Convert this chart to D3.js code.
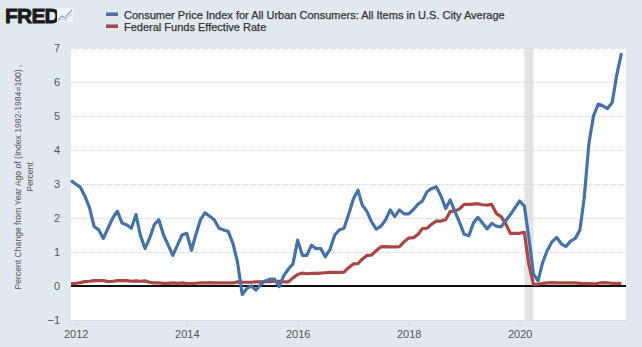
<!DOCTYPE html>
<html>
<head>
<meta charset="utf-8">
<script src="https://cdn.jsdelivr.net/npm/d3@7"></script>
<style>
  body { margin: 0; background: #e1e9f0; }
  svg text { font-family: "Liberation Sans", Arial, sans-serif; }
</style>
</head>
<body>
<svg id="chart"></svg>
<script>
// monthly observations, Dec 2011 .. Nov 2021
var firstMonth = "2011-12-01";

var cpiValues = [
  3.1,
  3.0, 2.9, 2.65, 2.3, 1.75, 1.65, 1.4, 1.7, 2.0, 2.2, 1.85, 1.8,
  1.7, 2.1, 1.5, 1.1, 1.4, 1.8, 1.95, 1.5, 1.2, 0.9, 1.2, 1.5,
  1.55, 1.05, 1.5, 1.95, 2.15, 2.05, 1.95, 1.7, 1.65, 1.6, 1.25, 0.7,
  -0.25, -0.07, 0.0, -0.12, 0.03, 0.15, 0.2, 0.2, -0.02, 0.3, 0.5, 0.65,
  1.35, 0.9, 0.9, 1.2, 1.1, 1.1, 0.86, 1.08, 1.5, 1.65, 1.7, 2.1,
  2.55, 2.82, 2.38, 2.19, 1.89, 1.67, 1.76, 1.94, 2.24, 2.04, 2.24, 2.12,
  2.12, 2.25, 2.4, 2.5, 2.77, 2.87, 2.92, 2.65, 2.28, 2.53, 2.19, 1.88,
  1.52, 1.48, 1.84, 2.02, 1.85, 1.68, 1.84, 1.76, 1.74, 1.92, 2.1, 2.3,
  2.5, 2.35, 1.45, 0.35, 0.15, 0.7, 1.05, 1.3, 1.43, 1.24, 1.16, 1.32,
  1.4, 1.65, 2.6, 4.2, 5.0, 5.35, 5.3, 5.22, 5.4, 6.2, 6.85
];

var fedFundsValues = [
  0.07,
  0.08, 0.10, 0.13, 0.14, 0.16, 0.16, 0.16, 0.13, 0.14, 0.16, 0.16, 0.16,
  0.14, 0.15, 0.14, 0.15, 0.11, 0.09, 0.09, 0.08, 0.08, 0.09, 0.08, 0.09,
  0.07, 0.07, 0.08, 0.09, 0.09, 0.10, 0.09, 0.09, 0.09, 0.09, 0.09, 0.12,
  0.11, 0.11, 0.11, 0.12, 0.12, 0.13, 0.13, 0.14, 0.14, 0.12, 0.12, 0.24,
  0.34, 0.38, 0.36, 0.37, 0.37, 0.38, 0.39, 0.40, 0.40, 0.40, 0.41, 0.54,
  0.65, 0.66, 0.79, 0.90, 0.91, 1.04, 1.15, 1.16, 1.15, 1.15, 1.16, 1.30,
  1.41, 1.42, 1.51, 1.69, 1.70, 1.82, 1.91, 1.91, 1.95, 2.19, 2.20, 2.27,
  2.40, 2.40, 2.41, 2.42, 2.39, 2.38, 2.40, 2.13, 2.04, 1.83, 1.55, 1.55,
  1.55, 1.58, 0.65, 0.05, 0.05, 0.08, 0.09, 0.10, 0.09, 0.09, 0.09, 0.09,
  0.09, 0.08, 0.07, 0.07, 0.06, 0.08, 0.10, 0.09, 0.08, 0.08, 0.08
];

var recession = ["2020-02-01", "2020-04-01"];
var xTickYears = [2012, 2014, 2016, 2018, 2020];
var yTicks = [-1, 0, 1, 2, 3, 4, 5, 6, 7];

var seriesNames = [
  "Consumer Price Index for All Urban Consumers: All Items in U.S. City Average",
  "Federal Funds Effective Rate"
];
var seriesColors = ["#4572a7", "#aa4643"];

var svgWidth = 642;
var svgHeight = 347;
var margin = {top: 48, right: 16, bottom: 27, left: 71};
var width = svgWidth - margin.left - margin.right;
var height = svgHeight - margin.top - margin.bottom;

var parseDate = d3.timeParse("%Y-%m-%d");
var start = parseDate(firstMonth);
var months = d3.timeMonth.range(start, d3.timeMonth.offset(start, cpiValues.length));

var svg = d3.select("#chart")
  .attr("width", svgWidth)
  .attr("height", svgHeight);

svg.append("rect")
  .attr("width", svgWidth)
  .attr("height", svgHeight)
  .attr("fill", "#e1e9f0");

var chartGroup = svg.append("g")
  .attr("transform", `translate(${margin.left}, ${margin.top})`);

var xScale = d3.scaleTime()
  .domain([start, d3.timeMonth.offset(start, 120)])
  .range([0, width]);

var yScale = d3.scaleLinear()
  .domain([-1, 7])
  .range([height, 0]);

chartGroup.append("rect")
  .attr("width", width)
  .attr("height", height)
  .attr("fill", "#ffffff");

// recession band
chartGroup.append("rect")
  .attr("x", xScale(parseDate(recession[0])))
  .attr("width", xScale(parseDate(recession[1])) - xScale(parseDate(recession[0])))
  .attr("y", 0)
  .attr("height", height)
  .attr("fill", "#e3e3e3");

// grid + y labels
var leftAxis = d3.axisLeft(yScale)
  .tickValues(yTicks)
  .tickSize(-width)
  .tickPadding(11);

var yAxisG = chartGroup.append("g").call(leftAxis);
yAxisG.select(".domain").remove();
yAxisG.selectAll("line")
  .attr("stroke", "#d4d4d4")
  .attr("stroke-dasharray", "1,1");
yAxisG.selectAll("text")
  .attr("fill", "#555")
  .attr("font-size", "11px");

var bottomAxis = d3.axisBottom(xScale)
  .tickValues(xTickYears.map(y => new Date(y, 0, 1)))
  .tickFormat(d3.timeFormat("%Y"))
  .tickSize(6)
  .tickPadding(4);

var xAxisG = chartGroup.append("g")
  .attr("transform", `translate(0, ${height})`)
  .call(bottomAxis);
xAxisG.select(".domain").remove();
xAxisG.selectAll("line").attr("stroke", "#ccd6e0");
xAxisG.selectAll("text")
  .attr("fill", "#555")
  .attr("font-size", "11px");

// zero line
chartGroup.append("line")
  .attr("x1", 0)
  .attr("x2", width)
  .attr("y1", yScale(0))
  .attr("y2", yScale(0))
  .attr("stroke", "#111")
  .attr("stroke-width", 2);

var line = d3.line()
  .x((d, i) => xScale(months[i]))
  .y(d => yScale(d));

chartGroup.append("path")
  .datum(fedFundsValues)
  .attr("d", line)
  .attr("fill", "none")
  .attr("stroke", seriesColors[1])
  .attr("stroke-width", 3.2)
  .attr("stroke-linejoin", "round");

chartGroup.append("path")
  .datum(cpiValues)
  .attr("d", line)
  .attr("fill", "none")
  .attr("stroke", seriesColors[0])
  .attr("stroke-width", 3.2)
  .attr("stroke-linejoin", "round");

// y axis title
var yTitle = svg.append("text")
  .attr("transform", `translate(21, ${margin.top + height / 2 - 7}) rotate(-90)`)
  .attr("text-anchor", "middle")
  .attr("fill", "#555")
  .attr("font-size", "8.6px");
yTitle.append("tspan")
  .attr("x", 0)
  .text("Percent Change from Year Ago of (Index 1982-1984=100) ,");
yTitle.append("tspan")
  .attr("x", 0)
  .attr("dy", "12")
  .text("Percent");

// header: logo
svg.append("text")
  .attr("x", 5)
  .attr("y", 23)
  .attr("font-size", "21px")
  .attr("font-weight", "bold")
  .attr("fill", "#1a1a1a")
  .attr("stroke", "#1a1a1a")
  .attr("stroke-width", 0.8)
  .attr("letter-spacing", "-0.8")
  .text("FRED");

var icon = svg.append("g").attr("transform", "translate(57, 8)");
icon.append("rect").attr("width", 16).attr("height", 14).attr("fill", "#f2f5f8");
icon.append("polyline")
  .attr("points", "1,12 5,8 8,10 12,5 15,2")
  .attr("fill", "none").attr("stroke", "#8aa6c8").attr("stroke-width", 1.2);
icon.append("polyline")
  .attr("points", "1,13 5,11 9,12 12,8 15,6")
  .attr("fill", "none").attr("stroke", "#b8c4d0").attr("stroke-width", 1);

// legend
var legend = svg.append("g");
seriesNames.forEach(function(name, i) {
  legend.append("rect")
    .attr("x", 106)
    .attr("y", 14 + i * 12 - 1.5)
    .attr("width", 12)
    .attr("height", 3.5)
    .attr("fill", seriesColors[i]);
  legend.append("text")
    .attr("x", 124)
    .attr("y", 18.5 + i * 12)
    .attr("font-size", "11px")
    .attr("fill", "#333")
    .attr("stroke", "#333")
    .attr("stroke-width", 0.25)
    .text(name);
});
</script>
</body>
</html>
